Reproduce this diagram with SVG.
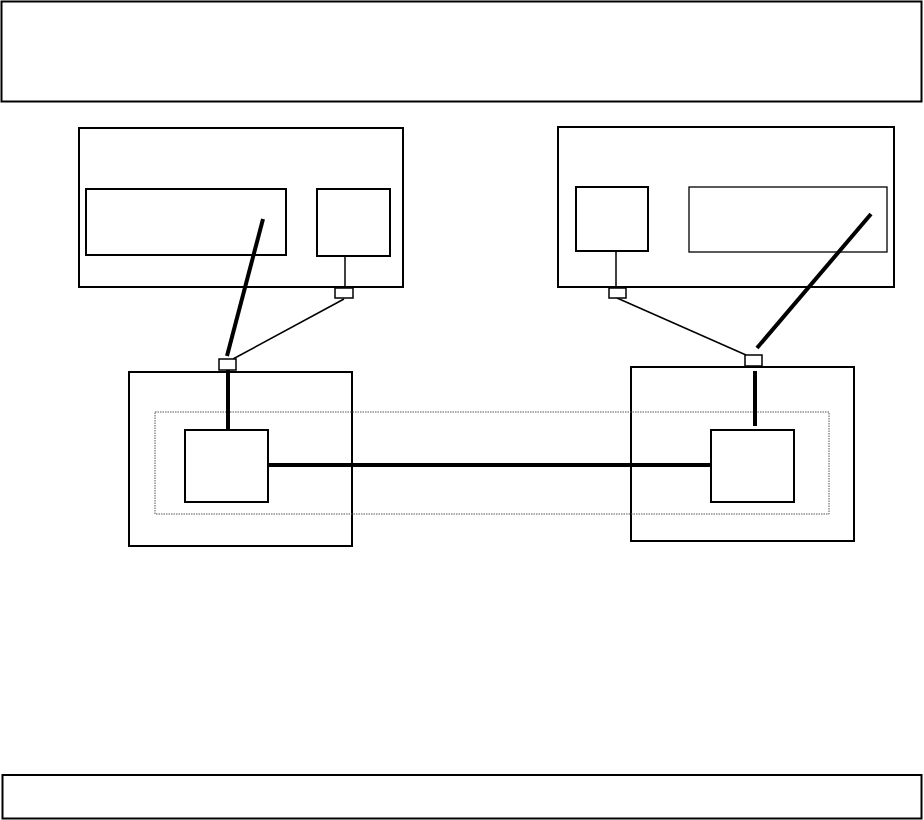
<svg xmlns="http://www.w3.org/2000/svg" width="924" height="820" viewBox="0 0 924 820">
<style>
.box{fill:#fff;stroke:#000;stroke-width:2}
.thin{fill:#fff;stroke:#000;stroke-width:1.3}
.port{fill:#fff;stroke:#000;stroke-width:1.5}
.dot{fill:none;stroke:#555;stroke-width:1;stroke-dasharray:1.5 1}
.thick{stroke:#000;stroke-width:4;fill:none}
.link{stroke:#000;stroke-width:1.5;fill:none}
</style>
<rect width="924" height="820" fill="#fff"/>
<g id="top-banner"><rect class="box" x="1.5" y="1.5" width="920" height="100"/></g>
<g id="bottom-banner"><rect class="box" x="2.5" y="775" width="919" height="43.5"/></g>
<g id="host-left">
<rect class="box" x="79" y="128" width="324" height="159"/>
<rect class="box" x="86" y="189" width="200" height="66"/>
<rect class="box" x="317" y="189" width="73" height="67"/>
</g>
<g id="host-right">
<rect class="box" x="558" y="127" width="336" height="160"/>
<rect class="box" x="576" y="187" width="72" height="64"/>
<rect class="thin" x="689" y="187" width="198" height="65"/>
</g>
<g id="site-left">
<rect class="box" x="129" y="372" width="223" height="174"/>
</g>
<g id="site-right">
<rect class="box" x="631" y="367" width="223" height="174"/>
</g>
<g id="domain"><rect class="dot" x="155" y="412" width="674" height="102"/></g>
<g id="node-left"><rect class="box" x="185" y="430" width="83" height="72"/></g>
<g id="node-right"><rect class="box" x="711" y="430" width="83" height="72"/></g>
<g id="connectors">
<line class="thick" x1="263" y1="219" x2="227" y2="356"/>
<line class="thick" x1="871" y1="214" x2="757" y2="348"/>
<line class="link" x1="345" y1="256" x2="345" y2="288"/>
<line class="link" x1="616" y1="251" x2="616" y2="288"/>
<line class="link" x1="344" y1="299" x2="233" y2="359"/>
<line class="link" x1="617" y1="298" x2="746" y2="355"/>
<line class="thick" x1="228" y1="370" x2="228" y2="429"/>
<line class="thick" x1="755" y1="371" x2="755" y2="426"/>
<line class="thick" x1="268" y1="465" x2="711" y2="465"/>
</g>
<g id="ports">
<rect class="port" x="335" y="288" width="18" height="10"/>
<rect class="port" x="219" y="359" width="17" height="11"/>
<rect class="port" x="609" y="288" width="17" height="10"/>
<rect class="port" x="745" y="355" width="17" height="11"/>
</g>
</svg>
